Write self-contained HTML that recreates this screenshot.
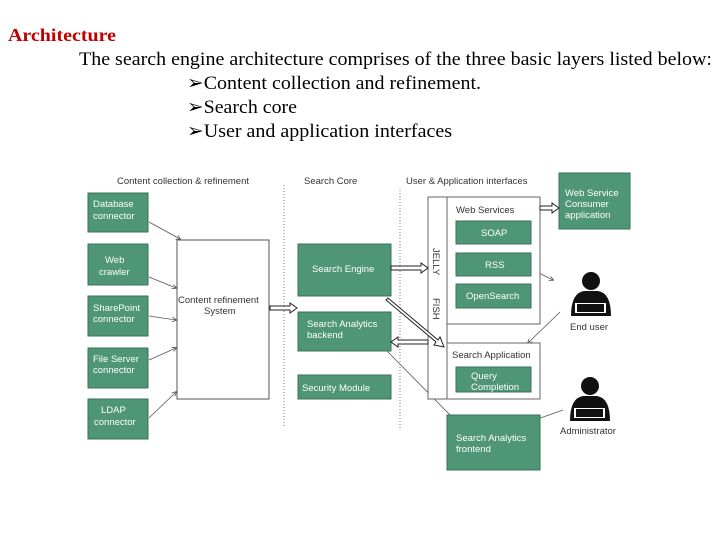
<!DOCTYPE html>
<html><head><style>
html,body{margin:0;padding:0;background:#fff;}
svg{display:block;}
.t{font-family:"Liberation Serif",serif;font-size:19px;fill:#000;}
.s{font-family:"Liberation Sans",sans-serif;font-size:9.5px;fill:#333;}
.g{fill:#4e9675;stroke:#3a7358;stroke-width:1;}
.w{font-family:"Liberation Sans",sans-serif;font-size:9.5px;fill:#fff;}
</style></head><body>
<svg width="720" height="540" viewBox="0 0 720 540" xmlns="http://www.w3.org/2000/svg">
<defs>
<marker id="a" markerWidth="6" markerHeight="6" refX="5" refY="3" orient="auto"><path d="M0,0 L6,3 L0,6" fill="none" stroke="#555" stroke-width="1"/></marker>
</defs>
<text x="8" y="41" font-family="Liberation Serif,serif" font-size="18" font-weight="bold" fill="#c00000" textLength="108" lengthAdjust="spacingAndGlyphs">Architecture</text>
<text class="t" x="79" y="65" textLength="633" lengthAdjust="spacingAndGlyphs">The search engine architecture comprises of the three basic layers listed below:</text>
<text class="t" x="187" y="89" textLength="294" lengthAdjust="spacingAndGlyphs">➢Content collection and refinement.</text>
<text class="t" x="187" y="113" textLength="110" lengthAdjust="spacingAndGlyphs">➢Search core</text>
<text class="t" x="187" y="137" textLength="265" lengthAdjust="spacingAndGlyphs">➢User and application interfaces</text>

<text class="s" x="117" y="184">Content collection &amp; refinement</text>
<text class="s" x="304" y="184">Search Core</text>
<text class="s" x="406" y="184">User &amp; Application interfaces</text>
<line x1="284" y1="185" x2="284" y2="428" stroke="#777" stroke-dasharray="1,2"/>
<line x1="400" y1="190" x2="400" y2="430" stroke="#777" stroke-dasharray="1,2"/>

<rect class="g" x="88" y="193" width="60" height="39"/><text class="w" x="93" y="207">Database</text><text class="w" x="93" y="219">connector</text>
<rect class="g" x="88" y="244" width="60" height="41"/><text class="w" x="105" y="263">Web</text><text class="w" x="99" y="275">crawler</text>
<rect class="g" x="88" y="296" width="60" height="40"/><text class="w" x="93" y="311">SharePoint</text><text class="w" x="93" y="322">connector</text>
<rect class="g" x="88" y="348" width="60" height="40"/><text class="w" x="93" y="362">File Server</text><text class="w" x="93" y="373">connector</text>
<rect class="g" x="88" y="399" width="60" height="40"/><text class="w" x="101" y="413">LDAP</text><text class="w" x="94" y="425">connector</text>

<rect x="177" y="240" width="92" height="159" fill="#fff" stroke="#555"/>
<text class="s" x="178" y="303">Content  refinement</text><text class="s" x="204" y="314">System</text>
<g stroke="#555" stroke-width="0.8" marker-end="url(#a)" fill="none">
<line x1="149" y1="222" x2="180" y2="239"/>
<line x1="149" y1="277" x2="176" y2="288"/>
<line x1="149" y1="316" x2="176" y2="320"/>
<line x1="149" y1="360" x2="176" y2="348"/>
<line x1="149" y1="418" x2="176" y2="392"/>
<line x1="525" y1="266" x2="553" y2="280"/>
<line x1="560" y1="312" x2="528" y2="343"/>
<line x1="386" y1="350" x2="455" y2="420"/>
<line x1="563" y1="410" x2="532" y2="421"/>
</g>

<rect class="g" x="298" y="244" width="93" height="52"/><text class="w" x="312" y="272">Search Engine</text>
<rect class="g" x="298" y="312" width="93" height="39"/><text class="w" x="307" y="327">Search Analytics</text><text class="w" x="307" y="338">backend</text>
<rect class="g" x="298" y="375" width="93" height="24"/><text class="w" x="302" y="391">Security Module</text>

<rect x="428" y="197" width="19" height="202" fill="#fff" stroke="#666"/>
<rect x="447" y="197" width="93" height="127" fill="#fff" stroke="#666"/>
<rect x="447" y="343" width="93" height="56" fill="#fff" stroke="#666"/>
<text class="s" x="456" y="213">Web Services</text>
<text class="s" x="452" y="358">Search  Application</text>
<text class="s" transform="translate(433,248) rotate(90)">JELLY</text>
<text class="s" transform="translate(433,298) rotate(90)">FISH</text>
<rect class="g" x="456" y="221" width="75" height="23"/><text class="w" x="481" y="236">SOAP</text>
<rect class="g" x="456" y="253" width="75" height="23"/><text class="w" x="485" y="268">RSS</text>
<rect class="g" x="456" y="284" width="75" height="24"/><text class="w" x="466" y="299">OpenSearch</text>
<rect class="g" x="456" y="367" width="75" height="25"/><text class="w" x="471" y="379">Query</text><text class="w" x="471" y="390">Completion</text>
<rect class="g" x="559" y="173" width="71" height="56"/><text class="w" x="565" y="196">Web Service</text><text class="w" x="565" y="207">Consumer</text><text class="w" x="565" y="218">application</text>
<rect class="g" x="447" y="415" width="93" height="55"/><text class="w" x="456" y="441">Search Analytics</text><text class="w" x="456" y="452">frontend</text>

<g fill="#fff" stroke="#222" stroke-width="1">
<path d="M270,306 h20 v-3 l7,5 l-7,5 v-3 h-20z"/>
<path d="M391,266 h30 v-3 l7,5 l-7,5 v-3 h-30z"/>
<path d="M540,206 h12 v-3 l7,5 l-7,5 v-3 h-12z"/>
<path d="M428,340 h-30 v-3 l-7,5 l7,5 v-3 h30z"/>
<path d="M388,298 l50,42 l2,-3 l4,10 l-10,-2 l2,-3 l-50,-42z"/>
</g>

<g fill="#111">
<circle cx="591" cy="281" r="9"/>
<path d="M571,316 Q571,293 584,291 L598,291 Q611,293 611,316z"/>
<circle cx="590" cy="386" r="9"/>
<path d="M570,421 Q570,398 583,396 L597,396 Q610,398 610,421z"/>
</g>
<g fill="#fff"><rect x="575" y="303" width="31" height="10"/><rect x="574" y="408" width="31" height="10"/></g>
<g fill="#111"><rect x="577" y="304" width="27" height="8"/><rect x="576" y="409" width="27" height="8"/></g>
<text class="s" x="570" y="330">End user</text>
<text class="s" x="560" y="434">Administrator</text>
</svg>
</body></html>
